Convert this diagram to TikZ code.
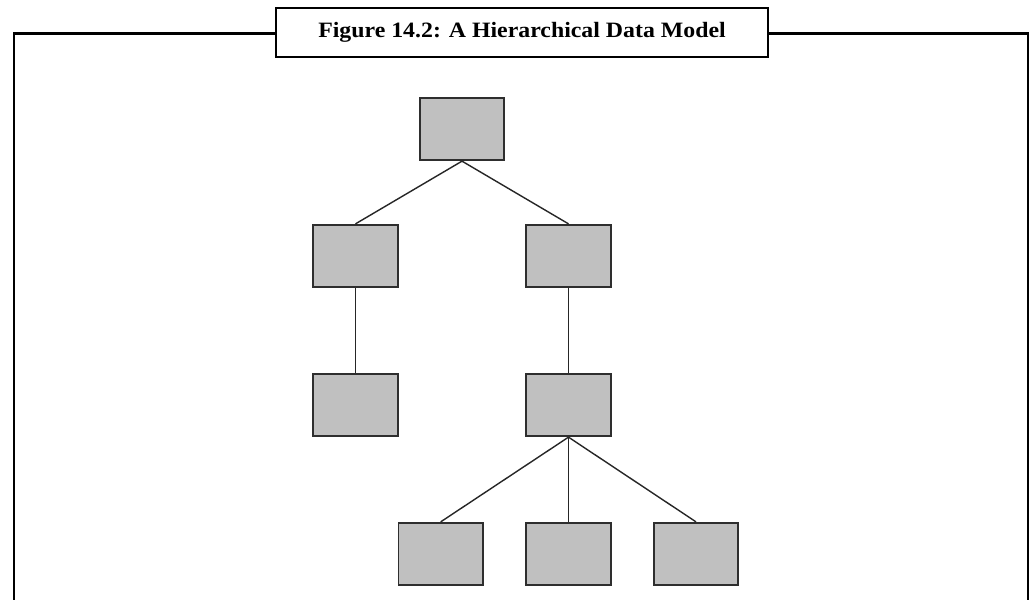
\documentclass[tikz,border=0pt]{standalone}
\usepackage{fontspec}
\setmainfont{Liberation Serif}
\definecolor{boxgray}{HTML}{C0C0C0}
\definecolor{edgegray}{HTML}{2E2E2E}
\begin{document}
\begin{tikzpicture}[x=1pt,y=-1pt,
  entity/.style={draw=edgegray, fill=boxgray, line width=1.8pt, minimum width=84.5pt, minimum height=62.5pt, inner sep=0pt},
  link/.style={draw=black!85, line width=1.4pt},
  framepart/.style={draw=black, line width=2.8pt},
  titlebox/.style={draw=black, line width=2.8pt, fill=white, minimum width=492pt, minimum height=49pt, inner sep=0pt}]
\useasboundingbox (0,0) rectangle (1033,600);
\fill[white] (0,0) rectangle (1033,600);
% outer frame
\coordinate (fl) at (14,33.5);
\coordinate (fr) at (1028,33.5);
\coordinate (flb) at (14,600);
\coordinate (frb) at (1028,600);
\node[titlebox] (title) at (522,32.5) {};
\draw[framepart] (title.west |- fl) -- (fl) -- (flb);
\draw[framepart] (title.east |- fr) -- (fr) -- (frb);
\node[anchor=base, inner sep=0pt] (titletext) at (522,37.5) {\scalebox{1.088}[1]{\fontsize{21.9}{24}\selectfont\bfseries Figure 14.2: A Hierarchical Data Model}};
% nodes
\node[entity] (root) at (462,129) {};
\node[entity] (a) at (355.5,256) {};
\node[entity] (b) at (568.5,256) {};
\node[entity] (a1) at (355.5,405) {};
\node[entity] (b1) at (568.5,405) {};
\node[entity] (c1) at (440.7,554) {};
\node[entity] (c2) at (568.5,554) {};
\node[entity] (c3) at (696,554) {};
% links
\draw[link] (root.south) -- (a.north);
\draw[link] (root.south) -- (b.north);
\draw[link] (a.south) -- (a1.north);
\draw[link] (b.south) -- (b1.north);
\draw[link] (b1.south) -- (c1.north);
\draw[link] (b1.south) -- (c2.north);
\draw[link] (b1.south) -- (c3.north);
\end{tikzpicture}
\end{document}
